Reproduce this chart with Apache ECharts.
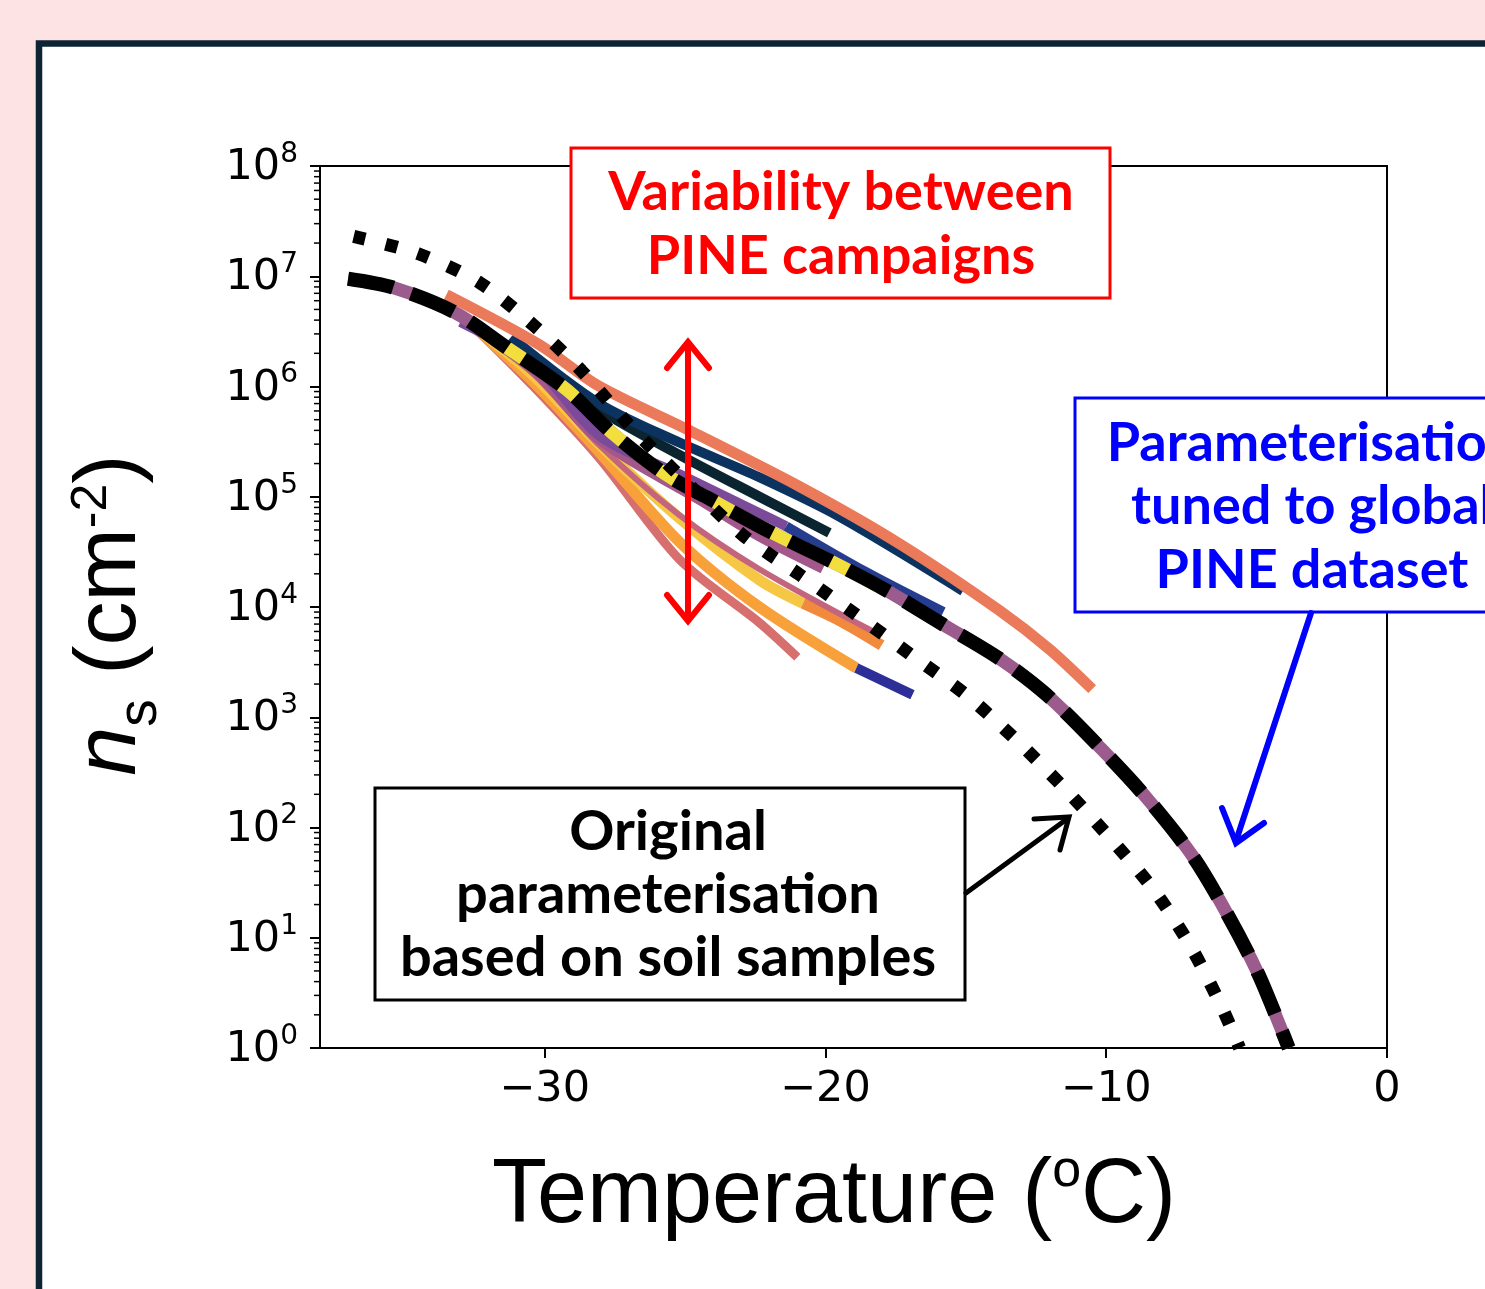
<!DOCTYPE html>
<html>
<head>
<meta charset="utf-8">
<script src="https://cdn.jsdelivr.net/npm/echarts@6/dist/echarts.min.js"></script>
<style>
html, body { margin: 0; padding: 0; background: #fde3e3; }
#chart { width: 1485px; height: 1289px; }
</style>
</head>
<body>
<div id="chart"></div>
<script>
// temperature (degC) vs n_s (cm^-2)
const xTicks = [-30, -20, -10, 0];

const originalParam = [[-36.8, 2.3e7], [-34.5, 1.6e7], [-32.3, 8.7e6], [-30.4, 3.6e6], [-28.7, 1.4e6],
  [-27.1, 4.8e5], [-26.3, 2.95e5], [-24.5, 1.05e5], [-22.9, 4.4e4], [-20.9, 1.95e4], [-18.9, 8.5e3],
  [-16.9, 3.6e3], [-15.0, 1.6e3], [-13.2, 620], [-11.55, 235], [-9.95, 85], [-8.3, 27], [-7.0, 8.4],
  [-5.9, 2.4], [-5.25, 1.0]];

const tunedParam = [[-37.0, 9.5e6], [-35.4, 7.9e6], [-33.2, 4.7e6], [-31.4, 2.3e6], [-29.2, 9.3e5],
  [-27.6, 3.8e5], [-25.7, 1.6e5], [-24.2, 9.8e4], [-22.1, 5.0e4], [-19.8, 2.6e4], [-17.8, 1.4e4],
  [-15.8, 6.9e3], [-13.8, 3.4e3], [-12.1, 1.58e3], [-10.2, 525], [-8.5, 178], [-6.9, 54], [-5.7, 16.6],
  [-4.6, 4.8], [-3.75, 1.45], [-3.5, 1.0]];
const tunedYellowRange = [-32.5, -17.5];

// PINE campaign fits
const salmonTop = [[-33.5, 6.8e6], [-30.2, 2.4e6], [-28.1, 1.02e6], [-24.85, 4.0e5], [-20.9, 1.23e5],
  [-17.4, 3.8e4], [-13.8, 9.3e3], [-12.0, 4.1e3], [-10.5, 1.8e3]];
const navy = [[-31.2, 2.8e6], [-28.1, 7.1e5], [-25.2, 3.1e5], [-22.35, 1.5e5], [-19.5, 6.6e4], [-15.1, 1.4e4]];
const teal = [[-31.0, 2.3e6], [-28.06, 6.2e5], [-25.2, 2.4e5], [-22.35, 1.0e5], [-19.86, 4.7e4]];
const purple = [[-33.0, 3.85e6], [-30.4, 1.6e6], [-28.06, 3.6e5], [-25.2, 1.6e5], [-22.35, 7.1e4], [-21.4, 5.4e4]];
const purpleBlue = [[-21.4, 5.4e4], [-18.6, 2.1e4], [-15.8, 9.0e3]];
const mauve = [[-32.6, 3.6e6], [-30.4, 1.4e6], [-28.06, 3.25e5], [-24.5, 9.3e4], [-22.35, 4.3e4], [-20.1, 2.2e4]];
const roseThin = [[-32.6, 3.4e6], [-30.4, 1.3e6], [-28.06, 2.95e5], [-25.2, 6.8e4], [-22.35, 2.2e4], [-18.25, 5.9e3]];
const yellow = [[-32.7, 3.85e6], [-30.4, 1.26e6], [-28.06, 3.0e5], [-25.2, 6.4e4], [-22.35, 1.76e4], [-20.8, 1.08e4]];
const yellowTail = [[-20.8, 1.08e4], [-19.4, 7.3e3], [-18.0, 4.5e3]];
const orange = [[-32.7, 3.85e6], [-30.4, 1.1e6], [-28.06, 2.55e5], [-25.2, 3.9e4], [-22.35, 1.0e4], [-18.9, 2.8e3]];
const orangeTail = [[-18.9, 2.8e3], [-16.9, 1.6e3]];
const salmonRose = [[-32.7, 3.85e6], [-30.4, 1.0e6], [-28.06, 2.25e5], [-25.2, 2.7e4], [-22.35, 7.2e3], [-21.0, 3.5e3]];

// minor tick positions on the log axis
const minorTicks = [];
for (let k = 0; k < 8; k++) {
  for (let m = 2; m <= 9; m++) minorTicks.push([-38, m * Math.pow(10, k)]);
}

const ZWNJ = '\u200C'; // stops the "ti" ligature
const annFont = 'Lato';

function curve(data, color, width, extra) {
  return Object.assign({
    type: 'line', data: data, showSymbol: false, symbol: 'none', smooth: 0.3, silent: true,
    lineStyle: { color: color, width: width, cap: 'butt', join: 'round' }
  }, extra || {});
}

const chart = echarts.init(document.getElementById('chart'));

const option = {
  backgroundColor: '#fde3e3',
  animation: false,
  grid: { left: 320, top: 166, right: 98, bottom: 241, show: true, borderColor: '#000', borderWidth: 2,
    backgroundColor: 'transparent' },
  xAxis: {
    type: 'value', min: -38, max: 0,
    axisLine: { onZero: false, lineStyle: { color: '#000', width: 2 } },
    axisTick: { length: 10, customValues: xTicks, lineStyle: { color: '#000', width: 2 } },
    axisLabel: {
      customValues: xTicks, margin: 20, fontFamily: 'DejaVu Sans', fontSize: 43, color: '#000',
      formatter: v => v < 0 ? '\u2212' + Math.abs(v) : String(v)
    },
    splitLine: { show: false }
  },
  yAxis: {
    type: 'log', logBase: 10, min: 1, max: 1e8, splitNumber: 8,
    axisLine: { show: true, onZero: false, lineStyle: { color: '#000', width: 2 } },
    axisTick: { show: true, length: 10, lineStyle: { color: '#000', width: 2 } },
    splitLine: { show: false },
    axisLabel: {
      margin: 22,
      formatter: v => '{b|10}{e|' + Math.round(Math.log10(v)) + '}',
      rich: {
        b: { fontFamily: 'DejaVu Sans', fontSize: 43, color: '#000', lineHeight: 50, padding: [4, 0, 0, 0] },
        e: { fontFamily: 'DejaVu Sans', fontSize: 28, color: '#000', lineHeight: 50, padding: [0, 0, 23, 0] }
      }
    }
  },
  series: [
    {
      type: 'custom', data: minorTicks, silent: true, clip: false,
      renderItem: (params, api) => {
        const p = api.coord([api.value(0), api.value(1)]);
        return { type: 'line', shape: { x1: p[0] - 6, y1: p[1], x2: p[0], y2: p[1] },
          style: { stroke: '#000', lineWidth: 1.5 } };
      }
    },
    curve(salmonRose, '#d66f6d', 9),
    curve(orange, '#f8a13a', 11),
    curve(orangeTail, '#2d2f98', 10),
    curve(yellow, '#f6c744', 11),
    curve(yellowTail, '#f28a3e', 11),
    curve(roseThin, '#c4657e', 6),
    curve(mauve, '#a3578a', 9),
    curve(purple, '#7b4b99', 10),
    curve(purpleBlue, '#263c8e', 10),
    curve(teal, '#0a2530', 10),
    curve(navy, '#0c3360', 10),
    curve(salmonTop, '#eb7a5a', 11),
    curve(tunedParam, '#9b5b8d', 13),
    curve(tunedParam.filter(d => d[0] >= tunedYellowRange[0] && d[0] <= tunedYellowRange[1]), '#f2de3d', 13),
    curve(tunedParam, '#000', 14, { lineStyle: { color: '#000', width: 14, type: [46, 19], cap: 'butt' } }),
    curve(originalParam, '#000', 13, { lineStyle: { color: '#000', width: 13, type: [12, 21], cap: 'butt' } })
  ],
  graphic: [
    { type: 'rect', z: -100, shape: { x: 39, y: 43.5, width: 1500, height: 1300 },
      style: { fill: '#fff', stroke: '#0c2433', lineWidth: 6.5 } },
    // axis titles
    { type: 'text', z: 50, x: 834, y: 1197,
      style: { text: '{t|Temperature (}{o|o}{t|C)}', align: 'center', verticalAlign: 'middle',
        rich: {
          t: { fontFamily: 'Liberation Sans', fontSize: 90, lineHeight: 100, fill: '#000' },
          o: { fontFamily: 'Liberation Sans', fontSize: 52, lineHeight: 100, padding: [0, 0, 50, 0], fill: '#000' }
        } } },
    { type: 'text', z: 50, x: 111, y: 615, rotation: Math.PI / 2,
      style: { text: '{n|n}{s|s}{t| (cm}{p|-2}{t|)}', align: 'center', verticalAlign: 'middle',
        rich: {
          n: { fontFamily: 'Liberation Sans', fontStyle: 'italic', fontSize: 88, lineHeight: 100, fill: '#000' },
          s: { fontFamily: 'Liberation Sans', fontSize: 55, lineHeight: 100, padding: [59, 0, 0, 0], fill: '#000' },
          t: { fontFamily: 'Liberation Sans', fontSize: 88, lineHeight: 100, fill: '#000' },
          p: { fontFamily: 'Liberation Sans', fontSize: 50, lineHeight: 100, padding: [0, 0, 38, 0], fill: '#000' }
        } } },
    // red annotation
    { type: 'rect', z: 100, shape: { x: 571, y: 148, width: 539, height: 150 },
      style: { fill: '#fff', stroke: '#ff0000', lineWidth: 3 } },
    { type: 'text', z: 101, x: 841, y: 225,
      style: { text: 'Variability between\nPINE campaigns', fill: '#ff0000', fontFamily: annFont, fontWeight: 'bold',
        fontSize: 54, lineHeight: 64, align: 'center', verticalAlign: 'middle' } },
    { type: 'polyline', z: 100, shape: { points: [[688, 344], [688, 620]] },
      style: { stroke: '#ff0000', lineWidth: 6, lineCap: 'round' } },
    { type: 'polyline', z: 100, shape: { points: [[667, 368], [688, 342], [709, 368]] },
      style: { stroke: '#ff0000', lineWidth: 6, lineCap: 'round', lineJoin: 'miter', fill: null } },
    { type: 'polyline', z: 100, shape: { points: [[667, 595], [688, 621], [709, 595]] },
      style: { stroke: '#ff0000', lineWidth: 6, lineCap: 'round', lineJoin: 'miter', fill: null } },
    // blue annotation
    { type: 'rect', z: 100, shape: { x: 1075, y: 398, width: 500, height: 214 },
      style: { fill: '#fff', stroke: '#0000ff', lineWidth: 3 } },
    { type: 'text', z: 101, x: 1312, y: 507,
      style: { text: 'Parameterisa' + ZWNJ + 'tion\ntuned to global\nPINE dataset', fill: '#0000ff', fontFamily: annFont,
        fontWeight: 'bold', fontSize: 54, lineHeight: 63.5, align: 'center', verticalAlign: 'middle' } },
    { type: 'polyline', z: 100, shape: { points: [[1311, 613], [1236, 841]] },
      style: { stroke: '#0000ff', lineWidth: 6, lineCap: 'round' } },
    { type: 'polyline', z: 100, shape: { points: [[1222, 808], [1236, 843], [1264, 823]] },
      style: { stroke: '#0000ff', lineWidth: 6, lineCap: 'round', lineJoin: 'miter', fill: null } },
    // black annotation
    { type: 'rect', z: 100, shape: { x: 375, y: 788, width: 590, height: 212 },
      style: { fill: '#fff', stroke: '#000', lineWidth: 3 } },
    { type: 'text', z: 101, x: 668, y: 895,
      style: { text: 'Original\nparameterisa' + ZWNJ + 'tion\nbased on soil samples', fill: '#000', fontFamily: annFont,
        fontWeight: 'bold', fontSize: 56, lineHeight: 63, align: 'center', verticalAlign: 'middle' } },
    { type: 'polyline', z: 100, shape: { points: [[966, 893], [1067, 819]] },
      style: { stroke: '#000', lineWidth: 5, lineCap: 'round' } },
    { type: 'polyline', z: 100, shape: { points: [[1034, 819], [1069, 817], [1060, 850]] },
      style: { stroke: '#000', lineWidth: 5, lineCap: 'round', lineJoin: 'miter', fill: null } }
  ]
};

chart.setOption(option);
</script>
</body>
</html>
